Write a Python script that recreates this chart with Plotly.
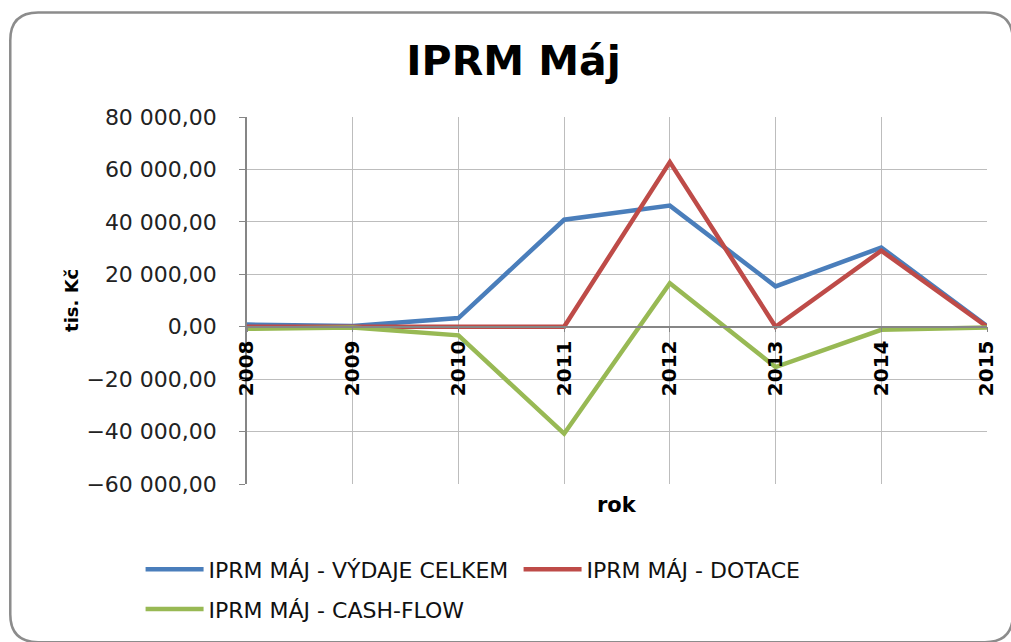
import plotly.graph_objects as go

years = [2008, 2009, 2010, 2011, 2012, 2013, 2014, 2015]
vydaje = [800, 300, 3300, 40800, 46200, 15400, 30200, 300]
dotace = [0, 0, 0, 0, 62800, 0, 29000, 0]
cashflow = [-800, -300, -3300, -40800, 16600, -15400, -1200, -300]

names = ["IPRM MÁJ - VÝDAJE CELKEM", "IPRM MÁJ - DOTACE", "IPRM MÁJ - CASH-FLOW"]
colors = ["#4a7ebb", "#be4b48", "#98b954"]
y_ticks = [80000, 60000, 40000, 20000, 0, -20000, -40000, -60000]

W, H = 1011, 642
L, R, T, B = 247, 20, 117, 156
pw, ph = W - L - R, H - T - B
def px(x):
    return (x - L) / pw
def py(y):
    return (H - B - y) / ph

FONT = "DejaVu Sans"
fig = go.Figure()
for name, vals, col, lg in zip(names, [vydaje, dotace, cashflow], colors, ["legend", "legend", "legend2"]):
    fig.add_trace(go.Scatter(x=years, y=vals, mode="lines", name=name,
                             line=dict(color=col, width=4.5), legend=lg))

ymin, ymax = -60000, 80000
zero_pos = (0 - ymin) / (ymax - ymin)

fig.update_layout(
    width=W, height=H,
    margin=dict(l=L, r=R, t=T, b=B),
    paper_bgcolor="white", plot_bgcolor="white",
    separators=", ",
    font=dict(family=FONT, color="#000000"),
    title=dict(text="IPRM Máj", x=0.508, xref="container", xanchor="center",
               y=1 - 61 / H, yref="container", yanchor="middle",
               font=dict(family=FONT, size=41, weight="bold", color="#000")),
    xaxis=dict(range=[2008, 2015], tickvals=years, ticktext=[str(y) for y in years],
               tickangle=-90, tickfont=dict(family=FONT, size=20, weight="bold", color="#000"),
               showgrid=True, gridcolor="#bdbdbd", gridwidth=1,
               anchor="free", position=zero_pos,
               showline=True, linecolor="#868686", linewidth=1.5,
               ticks="outside", ticklen=5, tickcolor="#868686", zeroline=False),
    yaxis=dict(range=[ymin, ymax], tickvals=y_ticks, tickformat=",.2f",
               tickfont=dict(family=FONT, size=22, color="#222"),
               showgrid=True, gridcolor="#bdbdbd", gridwidth=1,
               showline=True, linecolor="#868686", linewidth=1.5,
               ticks="outside", ticklen=6, tickcolor="#868686", zeroline=False,
               ticklabelstandoff=18),
    legend=dict(orientation="h", x=px(140), xanchor="left", y=py(572), yanchor="middle",
                font=dict(family=FONT, size=22, color="#111"), itemwidth=58,
                entrywidth=305, traceorder="normal", bgcolor="rgba(0,0,0,0)"),
    legend2=dict(orientation="h", x=px(140), xanchor="left", y=py(612), yanchor="middle",
                 font=dict(family=FONT, size=22, color="#111"), itemwidth=58,
                 bgcolor="rgba(0,0,0,0)"),
    showlegend=True,
)

fig.add_annotation(text="tis. Kč", x=px(70), y=py(301), xref="paper", yref="paper",
                   xanchor="center", yanchor="middle",
                   textangle=-90, showarrow=False,
                   font=dict(family=FONT, size=18, weight="bold", color="#000"))
fig.add_annotation(text="rok", x=px(619), y=py(507), xref="paper", yref="paper",
                   xanchor="center", yanchor="middle",
                   showarrow=False, font=dict(family=FONT, size=21, weight="bold", color="#000"))

x0, x1, y0, y1, r = 9, 1017, 12, 645, 28
path = (f"M {px(x0+r)},{py(y0)} L {px(x1-r)},{py(y0)} Q {px(x1)},{py(y0)} {px(x1)},{py(y0+r)} "
        f"L {px(x1)},{py(y1-r)} Q {px(x1)},{py(y1)} {px(x1-r)},{py(y1)} "
        f"L {px(x0+r)},{py(y1)} Q {px(x0)},{py(y1)} {px(x0)},{py(y1-r)} "
        f"L {px(x0)},{py(y0+r)} Q {px(x0)},{py(y0)} {px(x0+r)},{py(y0)} Z")
fig.add_shape(type="path", path=path, xref="paper", yref="paper",
              line=dict(color="#8c8c8c", width=2.5), layer="below")

fig.write_html("out.html", config={"displayModeBar": False},
               post_script="document.body.style.margin='0px';document.body.style.overflow='hidden';")
